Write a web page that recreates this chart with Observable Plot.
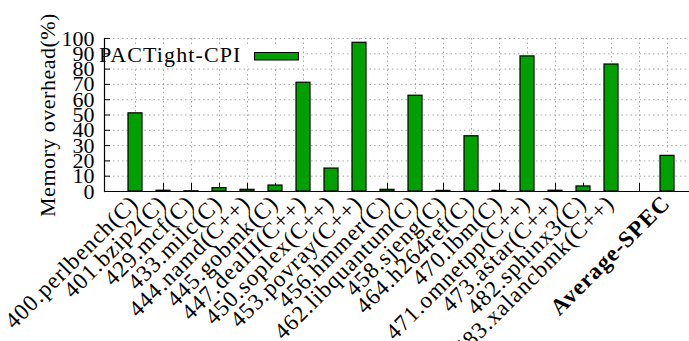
<!DOCTYPE html>
<html><head><meta charset="utf-8">
<script src="https://cdn.jsdelivr.net/npm/d3@7"></script>
<script src="https://cdn.jsdelivr.net/npm/@observablehq/plot@0.6"></script>
<style>
html,body{margin:0;padding:0;background:#fff;}
#chart{position:relative;width:689px;height:341px;overflow:hidden;}
</style></head><body><div id="chart"></div>
<script>
const benchmarks = ["400.perlbench(C)", "401.bzip2(C)", "429.mcf(C)", "433.milc(C)", "444.namd(C++)", "445.gobmk(C)", "447.dealII(C++)", "450.soplex(C++)", "453.povray(C++)", "456.hmmer(C)", "462.libquantum(C)", "458.sjeng(C)", "464.h264ref(C)", "470.lbm(C)", "471.omnetpp(C++)", "473.astar(C++)", "482.sphinx3(C)", "483.xalancbmk(C++)"];
const overhead = [51.1, 0.5, 0.15, 2.2, 1.1, 3.9, 71.1, 15.0, 97.2, 1.1, 62.6, 0.4, 36.1, 0.4, 88.3, 0.5, 3.3, 83.0];
const gapSlot = " ";
const averageLabel = "Average-SPEC";
const averageValue = 23.3;
const seriesName = "PACTight-CPI";
const yTicks = [0, 10, 20, 30, 40, 50, 60, 70, 80, 90, 100];
const yTitle = "Memory overhead(%)";

const categories = [...benchmarks, gapSlot, averageLabel];
const rows = benchmarks.map((b, i) => ({name: b, value: overhead[i]}))
  .concat([{name: averageLabel, value: averageValue}]);

const FONT = "'Liberation Serif', 'Times New Roman', serif";
const GREEN = "#00a000";
const GRID = "#a8a8a8";

function legendMark(index, scales, values, dims) {
  const g = d3.create("svg:g");
  const x0 = dims.marginLeft, y0 = dims.marginTop;
  g.append("rect").attr("x", x0).attr("y", y0 + 8).attr("width", 199).attr("height", 20).attr("fill", "white");
  g.append("text").attr("x", x0 - 5).attr("y", y0 + 24).attr("text-anchor", "start")
    .attr("font-size", 22).style("letter-spacing", "1.1px").attr("fill", "black").text(seriesName);
  g.append("rect").attr("x", x0 + 150.5).attr("y", y0 + 14.5).attr("width", 44).attr("height", 7.5)
    .attr("fill", GREEN).attr("stroke", "black").attr("stroke-width", 1);
  return g.node();
}

const chart = Plot.plot({
  width: 689,
  height: 341,
  marginLeft: 104,
  marginRight: 0,
  marginTop: 38,
  marginBottom: 150,
  style: {fontFamily: FONT, fontSize: "22px", background: "white", overflow: "hidden"},
  x: {type: "band", domain: categories, range: [104, 698], paddingInner: 0.5, paddingOuter: 0.74, align: 0.5, axis: null},
  y: {domain: [0, 100], axis: null},
  marks: [
    Plot.gridY(yTicks, {stroke: GRID, strokeOpacity: 1, strokeDasharray: "1.5,3"}),
    Plot.gridX(categories, {stroke: GRID, strokeOpacity: 1, strokeDasharray: "1.5,3"}),
    Plot.axisX({ticks: categories, tickSize: 8, dy: -8, tickFormat: () => "", label: null, stroke: "black", strokeWidth: 1}),
    Plot.barY(rows, {x: "name", y: "value", fill: GREEN, stroke: "black", strokeWidth: 1.2}),
    legendMark,
    Plot.ruleY([0], {stroke: "black", strokeWidth: 1.2}),
    Plot.frame({anchor: "left", stroke: "black", strokeWidth: 1.2}),
    Plot.axisY({ticks: yTicks, tickSize: 6, dx: 6, tickFormat: () => "", label: null, stroke: "black"}),
    Plot.axisY({ticks: yTicks, tickSize: 0, tickPadding: 10, label: null, fontSize: 22, fill: "black"}),
    Plot.text(benchmarks, {x: d => d, frameAnchor: "bottom", rotate: -45, textAnchor: "end", dy: 13, dx: 4, fontSize: 23, fill: "black"}),
    Plot.text([averageLabel], {x: d => d, frameAnchor: "bottom", rotate: -45, textAnchor: "end", dy: 13, dx: 4, fontSize: 23, fontWeight: "bold", fill: "black"}),
    Plot.text([yTitle], {frameAnchor: "left", rotate: -90, dx: -57, textAnchor: "middle", lineAnchor: "middle", fontSize: 22, fill: "black"})
  ]
});
const labelSet = new Set([...benchmarks, averageLabel]);
d3.select(chart).selectAll("text").each(function() {
  const t = this.textContent;
  if (labelSet.has(t)) this.style.letterSpacing = "1px";
  else if (t === yTitle) this.style.letterSpacing = "0.5px";
});
document.getElementById("chart").appendChild(chart);
</script>
</body></html>
